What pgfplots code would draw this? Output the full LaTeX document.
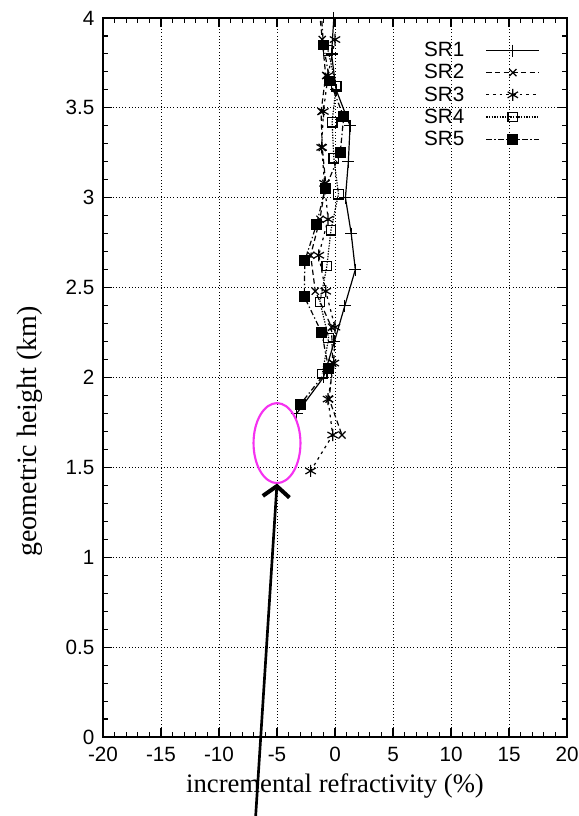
\documentclass[border=0pt]{standalone}
\usepackage{pgfplots}
\pgfplotsset{compat=1.18}
\usepackage{fontspec}
\setmainfont{Liberation Serif}
\newfontfamily\helv{Liberation Sans}
\usetikzlibrary{arrows.meta}
\definecolor{ellmag}{RGB}{245,50,240}
\pgfplotstableread{
x y
-0.1 4.0
-0.3 3.8
0.1 3.6
1.3 3.4
1.15 3.2
0.9 3.0
1.4 2.8
1.75 2.6
0.85 2.4
-0.05 2.2
-1.0 2.0
-3.3 1.8
}\srone
\pgfplotstableread{
x y
-1.4 4.08
-1.1 3.88
-0.8 3.68
-1.2 3.48
-1.1 3.28
-0.8 3.08
-1.3 2.88
-2.1 2.68
-1.7 2.48
-0.3 2.28
-0.2 2.08
-0.5 1.88
0.6 1.68
}\srtwo
\pgfplotstableread{
x y
0.0 3.88
-0.6 3.68
-1.0 3.48
-1.15 3.28
-0.9 3.08
-0.6 2.88
-1.4 2.68
-0.8 2.48
0.0 2.28
-0.1 2.08
-0.6 1.88
-0.2 1.68
-2.1 1.48
}\srthree
\pgfplotstableread{
x y
-0.6 3.82
0.1 3.62
-0.25 3.42
-0.1 3.22
0.3 3.02
-0.35 2.82
-0.7 2.62
-1.3 2.42
-0.55 2.22
-1.1 2.02
}\srfour
\pgfplotstableread{
x y
-1.2 4.05
-1.0 3.85
-0.45 3.65
0.75 3.45
0.45 3.25
-0.85 3.05
-1.6 2.85
-2.6 2.65
-2.65 2.45
-1.15 2.25
-0.55 2.05
-3.0 1.85
}\srfive
\begin{document}
\begin{tikzpicture}
\useasboundingbox (-77.25pt,-59.25pt) rectangle (356.25pt,552.75pt);
\begin{axis}[
 at={(0,0)}, anchor=south west, scale only axis, width=348pt, height=539.25pt,
 xmin=-20, xmax=20, ymin=0, ymax=4,
 xtick={-20,-15,...,20}, ytick={0,0.5,...,4},
 minor x tick num=4, minor y tick num=4,
 tick align=inside,
 grid=major, major grid style={dotted, black, line width=0.6pt},
 tick style={black, line width=0.8pt}, major tick length=7pt, minor tick length=4pt,
 axis line style={line width=1.1pt},
 ticklabel style={font=\helv\fontsize{15.5}{18}\selectfont},
 xticklabel style={yshift=-4pt},
 yticklabel style={xshift=-3pt},
 /pgf/number format/assume math mode=true,
 xlabel={incremental refractivity (\%)},
 ylabel={geometric height (km)},
 xlabel style={font=\fontsize{20}{24}\selectfont, yshift=-2pt},
 ylabel style={font=\fontsize{21}{24}\selectfont, at={(axis description cs:-0.157,0.425)}, anchor=center},
 clip mode=individual,
 legend cell align=right, legend plot pos=right,
 legend style={draw=none, fill=none, at={(0.951,0.974)}, anchor=north east,
   font=\helv\fontsize{15.5}{16}\selectfont, row sep=0.3pt, column sep=14pt},
 legend image code/.code={\draw[mark repeat=2,mark phase=2] plot coordinates {(0cm,0cm) (0.7cm,0cm) (1.4cm,0cm)};},
 every axis plot/.append style={black, line width=0.9pt},
]
\addplot[solid, mark=+, mark size=4.5pt, mark options={solid}] table {\srone};
\addlegendentry{SR1}
\addplot[dash pattern=on 4pt off 2.5pt, mark=x, mark size=3.8pt, mark options={solid}] table {\srtwo};
\addlegendentry{SR2}
\addplot[dash pattern=on 2pt off 3pt, mark=asterisk, mark size=4.5pt, mark options={solid}] table {\srthree};
\addlegendentry{SR3}
\addplot[dash pattern=on 1pt off 1pt, mark=square, mark size=3.6pt, mark options={solid}] table {\srfour};
\addlegendentry{SR4}
\addplot[dash pattern=on 4pt off 2pt on 1pt off 2pt, mark=square*, mark size=3.6pt, mark options={solid}] table {\srfive};
\addlegendentry{SR5}
\coordinate (ec) at (axis cs:-5,1.635);
\coordinate (tip) at (axis cs:-5,1.41);
\coordinate (tail) at (axis cs:-6.85,-0.45);
\end{axis}
\draw[ellmag, line width=1.6pt] (ec) ellipse [x radius=17.6pt, y radius=30pt];
\draw[black, line width=2pt, -{Straight Barb[length=8pt,width=20pt,line width=3pt]}] (tail) -- (tip);
\end{tikzpicture}
\end{document}
